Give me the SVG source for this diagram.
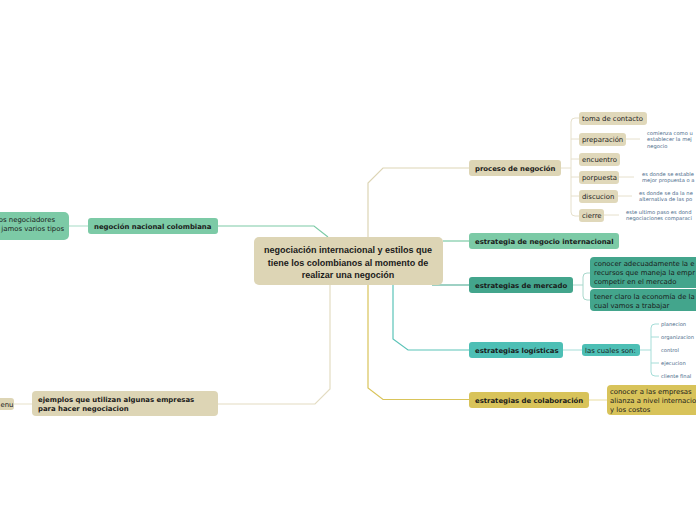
<svg xmlns="http://www.w3.org/2000/svg" width="696" height="520" viewBox="0 0 696 520">
<style>
.t{font-family:"DejaVu Sans","Liberation Sans",sans-serif;font-size:6.9px;fill:#1a1a1a}
.b{font-weight:bold;font-size:6.9px}
.c{font-family:"Liberation Sans",Arial,sans-serif;font-weight:bold;font-size:9px;fill:#1a1a1a;text-anchor:middle}
.s{font-family:"DejaVu Sans","Liberation Sans",sans-serif;font-size:5.2px;fill:#4a6a8a}
.ln{fill:none;stroke-width:1.2}
</style>
<rect width="696" height="520" fill="#ffffff"/>
<g id="connectors">
  <path class="ln" stroke="#ddd5b5" d="M368 237 V183 L383 168 H469"/>
  <path class="ln" stroke="#7ccaa6" d="M443 241 H469"/>
  <path class="ln" stroke="#3fa38a" d="M432 285 H469"/>
  <path class="ln" stroke="#5bc3b8" d="M393 285 V339 L408 350 H469"/>
  <path class="ln" stroke="#d9c45a" d="M368 285 V388 L383 399.5 H469"/>
  <path class="ln" stroke="#e3dcc2" d="M330 285 V389 L315 404 H218"/>
  <path class="ln" stroke="#7ccaa6" d="M328 237 L314 226 H218"/>
  <path class="ln" stroke="#b5e2cf" d="M69 226 H88"/>
  <path class="ln" stroke="#ece6d3" d="M14 404 H32"/>
  <g fill="none" stroke="#e6e0cc" stroke-width="1">
    <path d="M561 168 H571"/>
    <path d="M579 118 H575 Q571 118 571 122 V212 Q571 216 575 216 H579"/>
    <path d="M571 139 H579 M571 159 H579 M571 177 H579 M571 196 H579"/>
    <path d="M626 139 H640"/>
    <path d="M619 177 H634"/>
    <path d="M618 196 H632"/>
    <path d="M604 215 H619"/>
  </g>
  <g fill="none" stroke="#a8d8cc" stroke-width="1">
    <path d="M573 285 H583"/>
    <path d="M590 273 H587 Q583 273 583 277 V296 Q583 300 587 300 H590"/>
  </g>
  <g fill="none" stroke="#a5ddd8" stroke-width="1">
    <path d="M563 350 H582"/>
    <path d="M640 350 H651"/>
    <path d="M659 324 H655 Q651 324 651 328 V372 Q651 376 655 376 H659"/>
    <path d="M651 337 H659 M651 363 H659"/>
  </g>
  <path fill="none" stroke="#ede3b0" stroke-width="1.2" d="M589 400 H607"/>
</g>
<g id="n-center">
  <rect x="254" y="237" width="189" height="48" rx="5" fill="#ddd5b5"/>
  <text class="c" x="348" y="253">negociación internacional y estilos que</text>
  <text class="c" x="348" y="265.5">tiene los colombianos al momento de</text>
  <text class="c" x="348" y="278">realizar una negoción</text>
</g>
<g id="n-proceso">
  <rect x="469" y="160" width="92" height="16" rx="3" fill="#ddd5b5"/>
  <text class="t b" x="475" y="170.5">proceso de negoción</text>
</g>
<g id="n-toma"><rect x="579" y="112" width="68" height="13" rx="3" fill="#e0d8ba"/><text class="t" x="582" y="120.8">toma de contacto</text></g>
<g id="n-prep"><rect x="579" y="133" width="47" height="13" rx="3" fill="#e0d8ba"/><text class="t" x="582" y="141.8">preparación</text></g>
<g id="n-encuentro"><rect x="579" y="153" width="41" height="13" rx="3" fill="#e0d8ba"/><text class="t" x="582" y="161.8">encuentro</text></g>
<g id="n-porpuesta"><rect x="579" y="171" width="40" height="13" rx="3" fill="#e0d8ba"/><text class="t" x="582" y="179.8">porpuesta</text></g>
<g id="n-discucion"><rect x="579" y="190" width="39" height="13" rx="3" fill="#e0d8ba"/><text class="t" x="582" y="198.8">discucion</text></g>
<g id="n-cierre"><rect x="579" y="209" width="25" height="13" rx="3" fill="#e0d8ba"/><text class="t" x="582" y="217.8">cierre</text></g>
<g id="d-prep"><text class="s" x="647" y="134.5">comienza como u</text><text class="s" x="647" y="141">establecer la mej</text><text class="s" x="647" y="147.5">negocio</text></g>
<g id="d-porpuesta"><text class="s" x="642" y="175.5">es donde se estable</text><text class="s" x="642" y="182">mejor propuesta o a</text></g>
<g id="d-discucion"><text class="s" x="639" y="194.5">es donde se da la ne</text><text class="s" x="639" y="201">alternativa de las po</text></g>
<g id="d-cierre"><text class="s" x="626" y="213.5">este ultimo paso es dond</text><text class="s" x="626" y="220">negociaciones comparaci</text></g>
<g id="n-negocio-int">
  <rect x="469" y="233" width="150" height="16" rx="3" fill="#7ccaa6"/>
  <text class="t b" x="475" y="243.5">estrategia de negocio internacional</text>
</g>
<g id="n-mercado">
  <rect x="469" y="277" width="104" height="16" rx="3" fill="#43a58c"/>
  <text class="t b" x="475" y="287.5">estrategias de mercado</text>
</g>
<g id="n-mercado-1">
  <rect x="590" y="257" width="112" height="31" rx="4" fill="#43a58c"/>
  <text class="t" x="594" y="266">conocer adecuadamente la e</text>
  <text class="t" x="594" y="275">recursos que maneja la empr</text>
  <text class="t" x="594" y="284">competir en el mercado</text>
</g>
<g id="n-mercado-2">
  <rect x="590" y="289" width="112" height="22" rx="4" fill="#43a58c"/>
  <text class="t" x="594" y="298.5">tener claro la economía de la</text>
  <text class="t" x="594" y="307.5">cual vamos a trabajar</text>
</g>
<g id="n-logisticas">
  <rect x="469" y="342" width="94" height="16" rx="3" fill="#4dbfb5"/>
  <text class="t b" x="475" y="352.5">estrategias logísticas</text>
</g>
<g id="n-cuales">
  <rect x="582" y="344" width="58" height="12" rx="3" fill="#4dbfb5"/>
  <text class="t" x="585" y="352.6">las cuales son:</text>
</g>
<g id="l-items">
  <text class="s" x="661" y="326">planecion</text>
  <text class="s" x="661" y="339">organizacion</text>
  <text class="s" x="661" y="352">control</text>
  <text class="s" x="661" y="365">ejecucion</text>
  <text class="s" x="661" y="378">cliente final</text>
</g>
<g id="n-colaboracion">
  <rect x="469" y="392" width="120" height="16" rx="3" fill="#d8c35a"/>
  <text class="t b" x="475" y="402.5">estrategias de colaboración</text>
</g>
<g id="n-colab-1">
  <rect x="607" y="385" width="95" height="30" rx="4" fill="#d8c35a"/>
  <text class="t" x="610" y="394">conocer a las empresas</text>
  <text class="t" x="610" y="403">alianza a nivel internacio</text>
  <text class="t" x="610" y="412">y los costos</text>
</g>
<g id="n-nacional">
  <rect x="88" y="218" width="130" height="16" rx="3" fill="#7ccaa6"/>
  <text class="t b" x="94" y="228.5">negoción nacional colombiana</text>
</g>
<g id="n-nacional-1">
  <rect x="-40" y="212" width="109" height="28" rx="5" fill="#7ccaa6"/>
  <text class="t" x="55" y="221.5" text-anchor="end">os negociadores</text>
  <text class="t" x="64" y="230.5" text-anchor="end">jamos varios tipos</text>
</g>
<g id="n-ejemplos">
  <rect x="32" y="391" width="186" height="25" rx="4" fill="#ddd5b5"/>
  <text class="t b" x="38" y="401.5">ejemplos que utilizan algunas empresas</text>
  <text class="t b" x="38" y="410.5">para hacer negociacion</text>
</g>
<g id="n-ejemplos-1">
  <rect x="-20" y="398" width="34" height="12" rx="3" fill="#ddd5b5"/>
  <text class="t" x="0.5" y="406.6">enu</text>
</g>
</svg>
